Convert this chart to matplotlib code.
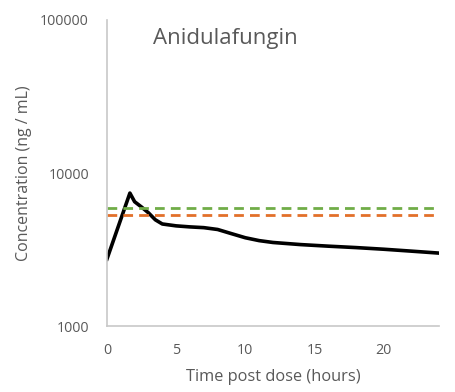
import matplotlib
matplotlib.use("Agg")
import matplotlib.pyplot as plt
from matplotlib.ticker import FixedLocator, FixedFormatter

time_h = [0, 1.66, 2.0, 2.5, 3.0, 3.5, 4.0, 5.0, 6.0, 7.0, 8.0, 9.0, 10.0, 11.0, 12.0, 14.0, 16.0, 18.0, 20.0, 22.0, 24.0]
conc = [2740, 7400, 6500, 6000, 5500, 4950, 4650, 4520, 4450, 4400, 4280, 4020, 3780, 3620, 3520, 3410, 3330, 3260, 3180, 3090, 3000]
threshold_green = 5900
threshold_orange = 5300
title = "Anidulafungin"
xticks = [0, 5, 10, 15, 20]
yticks = [1000, 10000, 100000]

plt.rcParams['font.family'] = ['Open Sans', 'DejaVu Sans']
gray = '#595959'

fig = plt.figure(figsize=(4.55, 3.92), dpi=100)
ax = fig.add_axes([0.235, 0.168, 0.73, 0.781])
ax.set_yscale('log')
ax.plot(time_h, conc, color='black', lw=2.6, solid_joinstyle='round')
ax.axhline(threshold_green, color='#70ad47', lw=2, ls=(0, (3.5, 2.2)))
ax.axhline(threshold_orange, color='#e2702a', lw=2, ls=(0, (3.5, 2.2)))
ax.set_xlim(0, 24)
ax.set_ylim(1000, 100000)
ax.xaxis.set_major_locator(FixedLocator(xticks))
ax.yaxis.set_major_locator(FixedLocator(yticks))
ax.yaxis.set_major_formatter(FixedFormatter([str(v) for v in yticks]))
ax.yaxis.set_minor_locator(FixedLocator([]))
ax.tick_params(axis='both', length=0, colors=gray, labelsize=10.3)
ax.tick_params(axis='x', pad=12)
ax.tick_params(axis='y', pad=13)
for s in ['top', 'right']:
    ax.spines[s].set_visible(False)
for s in ['left', 'bottom']:
    ax.spines[s].set_color('#c8c8c8')
    ax.spines[s].set_linewidth(1.2)
ax.set_xlabel('Time post dose (hours)', color=gray, fontsize=11.8, labelpad=8)
ax.set_ylabel('Concentration (ng / mL)', color=gray, fontsize=11.5, labelpad=6)
ax.text(0.14, 0.975, title, transform=ax.transAxes, color=gray, fontsize=16, va='top', ha='left')
fig.savefig('out.png', dpi=100)
